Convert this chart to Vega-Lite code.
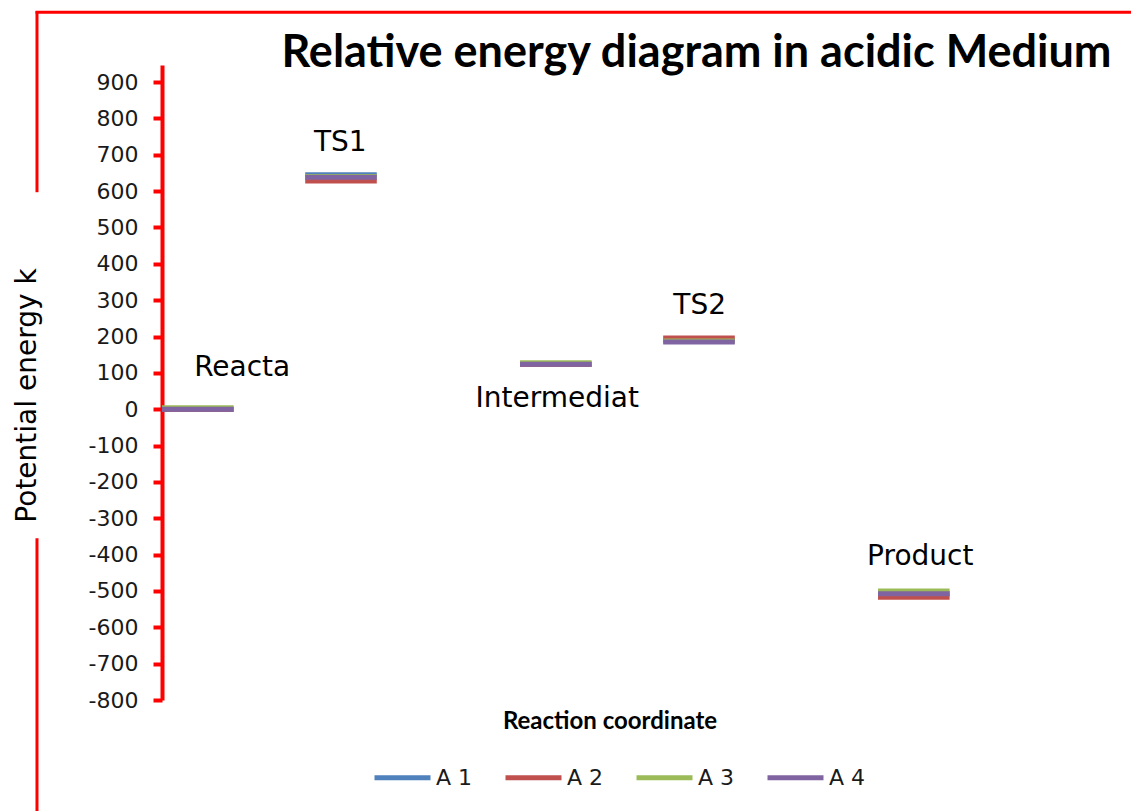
{
  "$schema": "https://vega.github.io/schema/vega-lite/v6.json",
  "width": 895,
  "height": 635,
  "autosize": {"type": "none"},
  "padding": {"left": 162, "top": 65, "right": 74, "bottom": 111},
  "background": "white",
  "config": {"view": {"stroke": null}, "font": "DejaVu Sans", "axisY": {"tickCount": 18}},
  "title": {
    "text": "Relative energy diagram in acidic Medium",
    "font": "Lato",
    "fontWeight": "bold",
    "fontSize": 45,
    "color": "#000000",
    "anchor": "middle",
    "dx": 87,
    "offset": -66
  },
  "datasets": {
    "levels": [
      {"series": "A 1", "stage": "Reactant", "start": 0, "end": 1, "energy": 0},
      {"series": "A 1", "stage": "TS1", "start": 2, "end": 3, "energy": 645},
      {"series": "A 1", "stage": "Intermediate", "start": 5, "end": 6, "energy": 124},
      {"series": "A 1", "stage": "TS2", "start": 7, "end": 8, "energy": 190},
      {"series": "A 1", "stage": "Product", "start": 10, "end": 11, "energy": -507},
      {"series": "A 2", "stage": "Reactant", "start": 0, "end": 1, "energy": 0},
      {"series": "A 2", "stage": "TS1", "start": 2, "end": 3, "energy": 628},
      {"series": "A 2", "stage": "Intermediate", "start": 5, "end": 6, "energy": 124},
      {"series": "A 2", "stage": "TS2", "start": 7, "end": 8, "energy": 196},
      {"series": "A 2", "stage": "Product", "start": 10, "end": 11, "energy": -517},
      {"series": "A 3", "stage": "Reactant", "start": 0, "end": 1, "energy": 4},
      {"series": "A 3", "stage": "TS1", "start": 2, "end": 3, "energy": 640},
      {"series": "A 3", "stage": "Intermediate", "start": 5, "end": 6, "energy": 128},
      {"series": "A 3", "stage": "TS2", "start": 7, "end": 8, "energy": 188},
      {"series": "A 3", "stage": "Product", "start": 10, "end": 11, "energy": -500},
      {"series": "A 4", "stage": "Reactant", "start": 0, "end": 1, "energy": 0},
      {"series": "A 4", "stage": "TS1", "start": 2, "end": 3, "energy": 638},
      {"series": "A 4", "stage": "Intermediate", "start": 5, "end": 6, "energy": 124},
      {"series": "A 4", "stage": "TS2", "start": 7, "end": 8, "energy": 185},
      {"series": "A 4", "stage": "Product", "start": 10, "end": 11, "energy": -508}
    ],
    "labels": [
      {"label": "TS1", "x": 2.49, "y": 732},
      {"label": "Reacta", "x": 1.12, "y": 113},
      {"label": "Intermediat", "x": 5.52, "y": 28},
      {"label": "TS2", "x": 7.51, "y": 284},
      {"label": "Product", "x": 10.59, "y": -407}
    ]
  },
  "layer": [
    {
      "data": {"name": "levels"},
      "mark": {"type": "rule", "strokeWidth": 5, "strokeCap": "butt"},
      "encoding": {
        "x": {
          "field": "start",
          "type": "quantitative",
          "scale": {"domain": [0, 12.5], "nice": false, "zero": false},
          "axis": {
            "title": "Reaction coordinate",
            "titleFont": "Lato",
            "titleFontWeight": "bold",
            "titleFontSize": 24,
            "titleColor": "#000000",
            "titlePadding": 9,
            "labels": false,
            "ticks": false,
            "domain": false,
            "grid": false
          }
        },
        "x2": {"field": "end"},
        "y": {
          "field": "energy",
          "type": "quantitative",
          "scale": {"domain": [-800, 947], "nice": false, "zero": false},
          "axis": {
            "values": [-800, -700, -600, -500, -400, -300, -200, -100, 0, 100, 200, 300, 400, 500, 600, 700, 800, 900],
            "tickCount": 18,
            "labelExpr": "'' + datum.value",
            "labelOverlap": false,
            "grid": false,
            "domainColor": "#ff0000",
            "domainWidth": 4,
            "tickColor": "#ff0000",
            "tickWidth": 4,
            "tickSize": 9,
            "labelFont": "DejaVu Sans",
            "labelFontSize": 22,
            "labelColor": "#1a1a1a",
            "labelPadding": 15,
            "title": "Potential energy  k",
            "titleFont": "DejaVu Sans",
            "titleFontWeight": "normal",
            "titleFontSize": 28,
            "titleColor": "#000000",
            "titleAngle": -90,
            "titleX": -127,
            "titleY": 330,
            "titleAlign": "center",
            "titleBaseline": "alphabetic"
          }
        },
        "color": {
          "field": "series",
          "type": "nominal",
          "scale": {"domain": ["A 1", "A 2", "A 3", "A 4"], "range": ["#4F81BD", "#C0504D", "#9BBB59", "#8064A2"]},
          "legend": {
            "title": null,
            "orient": "none",
            "legendX": 210,
            "legendY": 682,
            "padding": 0,
            "direction": "horizontal",
            "symbolType": "stroke",
            "symbolSize": 3136,
            "symbolStrokeWidth": 5,
            "labelFont": "DejaVu Sans",
            "labelFontSize": 22,
            "labelColor": "#1a1a1a",
            "labelOffset": 3,
            "columnPadding": 22
          }
        }
      }
    },
    {
      "data": {"values": [{}]},
      "mark": {"type": "rule", "color": "#ff0000", "strokeWidth": 3},
      "encoding": {
        "x": {"datum": -1.746, "type": "quantitative"},
        "y": {"datum": 597, "type": "quantitative"},
        "y2": {"datum": 1095}
      }
    },
    {
      "data": {"values": [{}]},
      "mark": {"type": "rule", "color": "#ff0000", "strokeWidth": 3},
      "encoding": {
        "x": {"datum": -1.746, "type": "quantitative"},
        "y": {"datum": -1110, "type": "quantitative"},
        "y2": {"datum": -355}
      }
    },
    {
      "data": {"values": [{}]},
      "mark": {"type": "rule", "color": "#ff0000", "strokeWidth": 3},
      "encoding": {
        "x": {"datum": -1.766, "type": "quantitative"},
        "x2": {"datum": 13.6},
        "y": {"datum": 1092, "type": "quantitative"}
      }
    },
    {
      "data": {"name": "labels"},
      "mark": {"type": "text", "font": "DejaVu Sans", "fontSize": 28, "color": "#000000", "align": "center", "baseline": "middle"},
      "encoding": {
        "x": {"field": "x", "type": "quantitative"},
        "y": {"field": "y", "type": "quantitative"},
        "text": {"field": "label"}
      }
    }
  ]
}
